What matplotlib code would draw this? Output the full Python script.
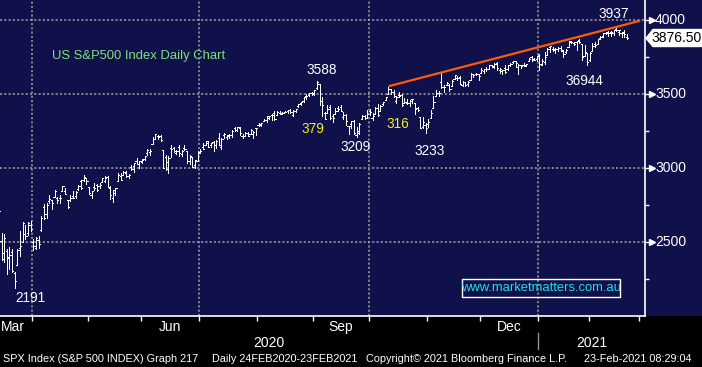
import numpy as np
import pandas as pd
import matplotlib
matplotlib.use('Agg')
import matplotlib.pyplot as plt
from matplotlib.patches import Polygon, Rectangle
from matplotlib.lines import Line2D

# ---------------- data (S&P 500 daily OHLC, 13-Mar-2020 .. 22-Feb-2021) ----------------
opens = [
 2569,2509,2426,2437,2394,2431,2291,2345,2457,2502,2556,2559,2614,
 2499,2458,2515,2579,2739,2686,2777,2783,2805,2796,2800,2843,2845,2785,2787,2810,2812,2855,2909,2918,2931,
 2870,2815,2869,2883,2878,2908,2915,2940,2866,2794,2829,2914,2948,2953,2969,2948,3004,3015,3046,3025,
 3038,3064,3098,3111,3163,3199,3213,3213,3123,3072,2994,3132,3136,3101,3141,3094,3138,3114,3047,3073,3018,3050,
 3106,3143,3155,3166,3154,3177,3152,3206,3141,3226,3209,3224,3224,3269,3255,3271,3219,3219,3234,3228,3231,3270,
 3289,3289,3317,3323,3340,3356,3370,3355,3372,3368,3380,3388,3392,3360,3386,3418,3436,3450,3486,3495,3509,
 3507,3543,3565,3453,3371,3369,3412,3353,3364,3408,3411,3346,3357,3285,3295,3320,3226,3236,3333,3350,3341,
 3385,3339,3367,3408,3384,3434,3460,3500,3534,3515,3453,3493,3493,3439,3439,3439,3464,3441,3404,3342,3278,3293,
 3296,3337,3406,3485,3508,3583,3544,3564,3562,3552,3601,3611,3612,3559,3580,3567,3594,3635,3638,3634,
 3645,3653,3668,3670,3694,3683,3706,3660,3656,3675,3666,3696,3713,3722,3684,3698,3694,3694,3723,3750,3736,3733,
 3764,3698,3713,3764,3816,3803,3801,3803,3814,3788,3781,3816,3857,3844,3851,3862,3836,3755,3778,
 3732,3791,3840,3837,3878,3892,3910,3920,3916,3911,3939,3918,3915,3921,3885]
highs = [
 2711,2562,2553,2453,2467,2454,2300,2450,2572,2638,2616,2632,2642,
 2522,2533,2539,2677,2757,2761,2819,2783,2851,2802,2816,2880,2868,2785,2815,2845,2843,2887,2921,2954,2931,
 2870,2844,2898,2891,2901,2932,2944,2945,2875,2852,2865,2968,2964,2981,2979,2957,3021,3036,3068,3050,
 3062,3081,3131,3129,3212,3233,3223,3223,3123,3088,3079,3154,3141,3120,3156,3120,3154,3115,3086,3073,3053,3112,
 3128,3166,3182,3184,3171,3180,3187,3236,3200,3238,3221,3233,3259,3277,3279,3280,3227,3242,3243,3263,3250,3273,
 3302,3307,3331,3352,3353,3364,3382,3387,3387,3378,3387,3395,3399,3390,3400,3432,3444,3482,3501,3509,3514,
 3528,3588,3565,3479,3379,3425,3426,3368,3402,3419,3428,3375,3362,3285,3320,3323,3279,3306,3360,3357,3393,
 3398,3369,3409,3431,3426,3447,3482,3549,3534,3527,3489,3516,3502,3476,3465,3461,3466,3441,3409,3342,3342,3305,
 3330,3389,3486,3529,3521,3646,3558,3582,3570,3593,3628,3624,3619,3586,3582,3589,3642,3635,3644,3634,
 3678,3670,3682,3699,3698,3708,3713,3678,3665,3697,3695,3711,3725,3726,3702,3698,3712,3703,3740,3756,3744,3760,
 3770,3738,3783,3811,3826,3818,3810,3820,3823,3796,3804,3860,3861,3852,3860,3871,3836,3831,3778,
 3784,3843,3848,3872,3894,3915,3918,3925,3925,3935,3950,3933,3921,3931,3902]
lows = [
 2492,2380,2367,2281,2319,2295,2192,2345,2408,2501,2521,2545,2572,
 2448,2455,2460,2575,2658,2664,2763,2722,2805,2762,2765,2843,2821,2728,2776,2794,2800,2852,2860,2912,2893,
 2822,2797,2852,2847,2867,2902,2903,2869,2793,2767,2817,2914,2922,2953,2938,2933,2988,2970,3024,2998,
 3032,3051,3090,3091,3163,3197,3193,3181,2999,2984,2966,3076,3108,3094,3083,3079,3122,3033,3025,3005,2999,3048,
 3101,3125,3155,3143,3142,3115,3137,3153,3128,3200,3198,3206,3209,3247,3250,3221,3200,3214,3216,3228,3205,3220,
 3284,3285,3317,3312,3329,3327,3323,3355,3363,3362,3379,3370,3369,3354,3379,3414,3423,3444,3469,3484,3494,
 3495,3536,3428,3350,3330,3369,3329,3310,3364,3385,3384,3328,3293,3229,3270,3232,3209,3228,3332,3328,3340,
 3361,3323,3367,3354,3384,3428,3458,3500,3500,3480,3441,3483,3420,3439,3433,3416,3440,3364,3388,3268,3269,3234,
 3280,3337,3406,3485,3484,3543,3511,3564,3518,3552,3601,3595,3568,3553,3556,3553,3594,3617,3630,3595,
 3645,3644,3658,3670,3684,3678,3660,3645,3633,3645,3660,3688,3710,3685,3636,3676,3689,3690,3723,3723,3730,3726,
 3663,3696,3705,3764,3784,3789,3777,3792,3792,3750,3780,3816,3845,3831,3797,3847,3732,3755,3694,
 3725,3791,3817,3836,3874,3885,3902,3891,3895,3899,3923,3901,3885,3885,3874]
closes = [
 2711,2386,2529,2398,2409,2305,2237,2447,2476,2630,2541,2627,2585,
 2471,2527,2489,2664,2660,2750,2790,2762,2846,2783,2800,2875,2823,2737,2799,2798,2837,2878,2863,2939,2912,
 2830,2842,2868,2848,2882,2930,2930,2870,2820,2852,2864,2954,2922,2972,2949,2955,2992,3036,3030,3044,
 3056,3081,3123,3112,3194,3232,3207,3190,3002,3041,3067,3125,3113,3115,3098,3118,3131,3050,3084,3009,3053,3100,
 3116,3130,3180,3145,3169,3152,3185,3155,3197,3227,3216,3225,3251,3257,3276,3236,3215,3239,3218,3258,3246,3271,
 3294,3306,3327,3349,3351,3360,3333,3380,3373,3373,3381,3390,3375,3385,3397,3431,3443,3478,3484,3508,3500,
 3527,3580,3455,3427,3332,3399,3340,3341,3384,3401,3385,3358,3320,3281,3316,3237,3247,3298,3351,3335,3363,
 3381,3348,3408,3361,3419,3447,3477,3535,3512,3489,3483,3484,3427,3443,3436,3453,3465,3401,3391,3271,3310,3270,
 3310,3370,3444,3510,3509,3550,3545,3573,3537,3585,3627,3610,3568,3582,3558,3578,3635,3629,3638,3622,
 3662,3669,3666,3699,3692,3702,3673,3668,3663,3647,3695,3702,3722,3709,3695,3687,3690,3703,3735,3727,3732,3756,
 3701,3726,3748,3804,3825,3799,3801,3810,3795,3768,3799,3852,3853,3841,3855,3850,3751,3787,3714,
 3774,3826,3830,3872,3887,3915,3912,3910,3916,3934,3933,3932,3914,3907,3876.5]

holidays = ['2020-04-10', '2020-05-25', '2020-07-03', '2020-09-07', '2020-11-26',
            '2020-12-25', '2021-01-01', '2021-01-18', '2021-02-15']
axis_dates = pd.bdate_range('2020-03-13', '2021-03-05', freq='C', holidays=holidays)

y_major = [2500, 3000, 3500, 4000]
y_minor = [2250, 2750, 3250, 3750]
last_price = 3876.50
trend_x_dates = ['2020-10-12', '2021-03-01']
trend_y = [3552, 3995]

annotations = [  # (text, colour, pixel x centre, pixel y centre)
    ('3588', 'white', 322, 70), ('379', '#f0f020', 313, 129), ('3209', 'white', 356, 147),
    ('316', '#f0f020', 398, 124), ('3233', 'white', 430, 151), ('36944', 'white', 584, 81),
    ('3937', 'white', 614, 14), ('2191', 'white', 30, 298),
]

# ---------------- figure ----------------
W, H = 702, 367
NAVY = '#10104a'
fig = plt.figure(figsize=(W / 100, H / 100), dpi=100)
fig.patch.set_facecolor(NAVY)

def fx(px):
    return px / W

def fy(py):
    return 1 - py / H

# black bottom band (behind the axes)
fig.patches.append(Rectangle((0, 0), 1, fy(316), transform=fig.transFigure,
                             facecolor='black', edgecolor='none', zorder=-10))

ax = fig.add_axes([0, fy(316), fx(645), 1 - fy(316)])
ax.set_facecolor(NAVY)
ax.set_zorder(1)

n = len(closes)
x = np.arange(n)
o = np.array(opens, float); h = np.array(highs, float)
l = np.array(lows, float); c = np.array(closes, float)

# month boundaries in index space
months = axis_dates.to_period('M')
bounds = {}
first_idx = {}
for i in range(1, len(axis_dates)):
    if months[i] != months[i - 1]:
        bounds[str(months[i])] = i - 0.5
for i, m in enumerate(months):
    first_idx.setdefault(str(m), i)

pxw = 2.65
x0 = bounds['2020-04'] - 32 / pxw
x1 = x0 + 645 / pxw
ax.set_xlim(x0, x1)
ax.set_ylim(2000, 4135)

# grid
for yv in y_major:
    ax.axhline(yv, color='#a0a0a0', lw=1.1, ls=(0, (1.4, 1.4)), zorder=1)
for m in ['2020-04', '2020-07', '2020-10', '2021-01']:
    ax.axvline(bounds[m], color='#a0a0a0', lw=1.1, ls=(0, (1.4, 1.4)), zorder=1)

# OHLC bars
ax.vlines(x, l, h, color='white', lw=0.72, antialiased=False, zorder=3)
ax.hlines(o, x - 0.45, x, color='white', lw=0.72, antialiased=False, zorder=3)
ax.hlines(c, x, x + 0.45, color='white', lw=0.72, antialiased=False, zorder=3)

# trend line
def date_index(d):
    return int(np.where(axis_dates == pd.Timestamp(d))[0][0])

tx = [date_index(d) for d in trend_x_dates]
ax.plot(tx, trend_y, color='#ff5a0a', lw=1.6, zorder=4, solid_capstyle='butt')

# spines & ticks
for s in ['top', 'left']:
    ax.spines[s].set_visible(False)
for s in ['bottom', 'right']:
    ax.spines[s].set_color('white')
    ax.spines[s].set_linewidth(1.2)
ax.set_xticks(sorted(bounds.values()))
ax.tick_params(axis='x', direction='out', length=3.5, width=1, color='white', labelbottom=False)
ax.yaxis.tick_right()
ax.set_yticks(y_major)
ax.set_yticks(y_minor, minor=True)
ax.tick_params(axis='y', which='major', length=0, labelright=False)
ax.tick_params(axis='y', which='minor', direction='out', length=3, width=1, color='white')

ytr = ax.get_yaxis_transform()
xtr = ax.get_xaxis_transform()
AF = 'Liberation Sans'
for yv in y_major:
    ax.plot([1.0, 1.0 + 6 / 645], [yv, yv], color='white', lw=1, transform=ytr, clip_on=False, zorder=5)
    ax.plot([1.0 + 7 / 645], [yv], marker='>', ms=4.5, color='white', mec='white',
            transform=ytr, clip_on=False, zorder=5)
    ax.text(1.0 + 10 / 645, yv, f'{yv}', transform=ytr, ha='left', va='center',
            color='white', fontsize=10, family=AF)

# month labels
ax.text(x0 + 1 / pxw, -0.035, 'Mar', transform=xtr, ha='left', va='center',
        color='white', fontsize=10, family=AF)
for m, lab in [('2020-06', 'Jun'), ('2020-09', 'Sep'), ('2020-12', 'Dec')]:
    start = first_idx[m] - 0.5
    end = bounds[str(pd.Period(m) + 1)]
    ax.text((start + end) / 2, -0.035, lab, transform=xtr, ha='center',
            va='center', color='white', fontsize=10, family=AF)
# year labels
ax.text((x0 + bounds['2021-01']) / 2, -0.085, '2020', transform=xtr,
        ha='center', va='center', color='white', fontsize=10, family=AF)
ax.text((bounds['2021-01'] + x1) / 2, -0.085, '2021', transform=xtr,
        ha='center', va='center', color='white', fontsize=10, family=AF)
fig.add_artist(Line2D([fx(538), fx(538)], [fy(333), fy(349)], color='#909090', lw=1))

# current price tag
poly = [(646, 38.3), (653, 29.5), (702, 29.5), (702, 46.5), (653, 46.5)]
fig.patches.append(Polygon([(fx(a), fy(b)) for a, b in poly], closed=True, transform=fig.transFigure,
                           facecolor='white', edgecolor='white', zorder=5))
fig.text(fx(677), fy(38.5), f'{last_price:.2f}', ha='center', va='center', color='black',
         fontsize=10, family=AF, zorder=6)

# annotations
fig.text(fx(139), fy(56), 'US S&P500 Index Daily Chart', ha='center', va='center',
         color='#80e080', fontsize=9.4, family=AF, zorder=6)
for txt, col, px_, py_ in annotations:
    fig.text(fx(px_), fy(py_), txt, ha='center', va='center', color=col, fontsize=9.8,
             family=AF, zorder=6)

fig.patches.append(Rectangle((fx(462), fy(297)), fx(620) - fx(462), fy(279) - fy(297),
                             transform=fig.transFigure, facecolor='none', edgecolor='white',
                             lw=1, zorder=5))
fig.text(fx(541), fy(288), 'www.marketmatters.com.au', ha='center', va='center',
         color='#22dede', fontsize=9.4, family=AF, zorder=6)

# footer
FF = 'Liberation Sans'
for txt, px_ in [('SPX Index (S&P 500 INDEX) Graph 217', 3), ('Daily 24FEB2020-23FEB2021', 212),
                 ('Copyright\u00a9 2021 Bloomberg Finance L.P.', 366), ('23-Feb-2021 08:29:04', 584)]:
    fig.text(fx(px_), fy(359), txt, ha='left', va='center', color='white', fontsize=7.8,
             family=FF, zorder=6)

fig.savefig('out.png', dpi=100, facecolor=fig.get_facecolor())
